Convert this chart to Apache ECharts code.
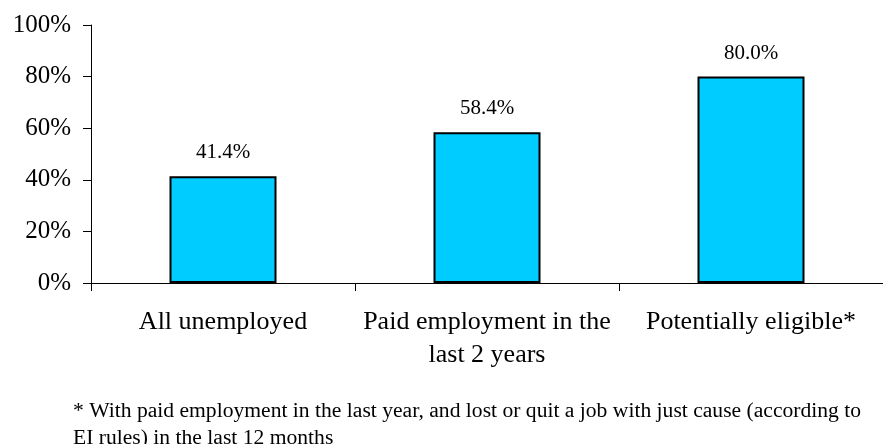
<!DOCTYPE html>
<html>
<head>
<meta charset="utf-8">
<script src="https://cdn.jsdelivr.net/npm/echarts@6/dist/echarts.min.js"></script>
<style>
  html, body { margin: 0; padding: 0; background: #fff; }
  #chart { width: 883px; height: 444px; }
</style>
</head>
<body>
<div id="chart"></div>
<script>
// Share of unemployed, by group (percent)
const categories = ['All unemployed', 'Paid employment in the\nlast 2 years', 'Potentially eligible*'];
const shares = [41.4, 58.4, 80.0];
const yTicks = [0, 20, 40, 60, 80, 100];
const footnote = '* With paid employment in the last year, and lost or quit a job with just cause (according to\nEI rules) in the last 12 months';

const serif = "'Liberation Serif', 'Times New Roman', serif";

const chart = echarts.init(document.getElementById('chart'), null, { renderer: 'canvas' });
chart.setOption({
  backgroundColor: '#ffffff',
  animation: false,
  grid: { left: 91, top: 25, width: 801, height: 258, containLabel: false },
  xAxis: {
    type: 'category',
    data: categories,
    axisLine: { show: true, lineStyle: { color: '#000', width: 1 } },
    axisTick: { show: true, length: 8, alignWithLabel: false, lineStyle: { color: '#000' } },
    axisLabel: {
      color: '#000', fontFamily: serif, fontSize: 26, lineHeight: 33,
      margin: 23, interval: 0
    },
    splitLine: { show: false }
  },
  yAxis: {
    type: 'value',
    min: yTicks[0],
    max: yTicks[yTicks.length - 1],
    interval: 20,
    axisLine: { show: true, lineStyle: { color: '#000', width: 1 } },
    axisTick: { show: true, length: 8, lineStyle: { color: '#000' } },
    axisLabel: {
      color: '#000', fontFamily: serif, fontSize: 25, margin: 20,
      formatter: v => v + '%'
    },
    splitLine: { show: false }
  },
  series: [{
    type: 'bar',
    data: shares,
    barWidth: 107,
    itemStyle: { color: '#00CCFF', borderColor: '#000', borderWidth: 2 },
    label: {
      show: true, position: 'top', distance: 13,
      color: '#000', fontFamily: serif, fontSize: 21,
      formatter: p => p.value.toFixed(1) + '%'
    }
  }],
  graphic: [{
    type: 'text',
    left: 73,
    top: 398,
    style: {
      text: footnote,
      fill: '#000',
      font: "21.6px 'Liberation Serif', 'Times New Roman', serif",
      lineHeight: 27
    }
  }]
});
</script>
</body>
</html>
